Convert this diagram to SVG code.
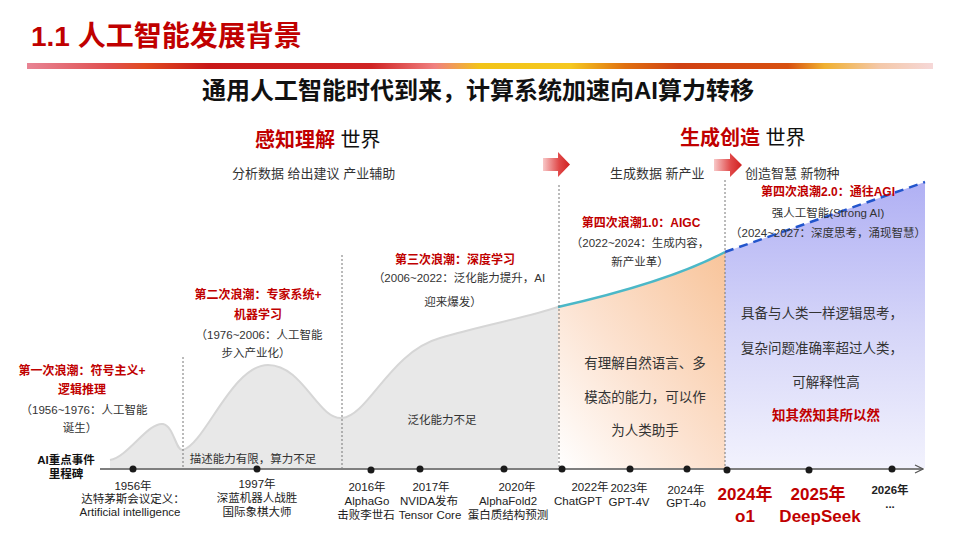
<svg xmlns="http://www.w3.org/2000/svg" width="960" height="540" viewBox="0 0 960 540">
<defs>
<linearGradient id="bar" x1="27" y1="0" x2="933" y2="0" gradientUnits="userSpaceOnUse">
<stop offset="0" stop-color="#E88494"/>
<stop offset="0.09" stop-color="#E05050"/>
<stop offset="0.13" stop-color="#E04A20"/>
<stop offset="0.2" stop-color="#C81818"/>
<stop offset="0.38" stop-color="#D02424"/>
<stop offset="0.45" stop-color="#F08080"/>
<stop offset="0.5" stop-color="#F2C418"/>
<stop offset="0.6" stop-color="#F5C820"/>
<stop offset="0.66" stop-color="#E07010"/>
<stop offset="0.72" stop-color="#D04012"/>
<stop offset="0.84" stop-color="#D85010"/>
<stop offset="0.88" stop-color="#F0B030"/>
<stop offset="0.94" stop-color="#F4C8A8"/>
<stop offset="1" stop-color="#F6D8D8"/>
</linearGradient>
<linearGradient id="arrowG" x1="0" y1="0" x2="1" y2="0">
<stop offset="0" stop-color="#F8C8C8"/>
<stop offset="0.6" stop-color="#E04848"/>
<stop offset="1" stop-color="#D02020"/>
</linearGradient>
<linearGradient id="orangeG" x1="1" y1="0" x2="0" y2="1">
<stop offset="0" stop-color="#F8C49A"/>
<stop offset="0.55" stop-color="#FCE2D0"/>
<stop offset="1" stop-color="#FFFFFF"/>
</linearGradient>
<linearGradient id="blueG" x1="0" y1="0" x2="0" y2="1">
<stop offset="0" stop-color="#B0B0F4"/>
<stop offset="0.5" stop-color="#D4D4F8"/>
<stop offset="1" stop-color="#F2F2FD"/>
</linearGradient>
<marker id="axisArrow" markerWidth="10" markerHeight="10" refX="9" refY="5" orient="auto" markerUnits="userSpaceOnUse">
<path d="M1,1 L9,5 L1,9" fill="none" stroke="#555" stroke-width="1.2"/>
</marker>
<style>
text{font-family:"Liberation Sans","Noto Sans CJK SC",sans-serif;}
.red{fill:#C00000;font-weight:bold;}
.wave{font-size:12px;fill:#C00000;font-weight:bold;text-anchor:middle;}
.note{font-size:11.5px;fill:#333;text-anchor:middle;}
.ms{font-size:11.5px;fill:#222;text-anchor:middle;}
.big{font-size:17px;fill:#C00000;font-weight:bold;text-anchor:middle;}
.body{font-size:13.5px;fill:#333;text-anchor:middle;}
.head{font-size:13px;fill:#333;}
.vdash{stroke:#777;stroke-width:1;stroke-dasharray:2 2;fill:none;}
.dot{fill:#1a1a1a;}
</style>
</defs>

<rect width="960" height="540" fill="#FFFFFF"/>

<g id="title">
<text x="31" y="46" font-size="28" class="red" fill="#C00000">1.1 人工智能发展背景</text>
<rect x="27" y="63" width="906" height="6" fill="url(#bar)"/>
</g>

<g id="subtitle">
<text x="478" y="99" font-size="24" font-weight="bold" fill="#111" text-anchor="middle">通用人工智能时代到来，计算系统加速向AI算力转移</text>
</g>

<g id="areas">
<path d="M110,468 L110,460 C128,457 148,422 163,424 C174,426 176,452 183,450 C205,444 232,365 268,365 C303,365 318,420 342,418 C368,416 390,352 440,338 C480,326 525,318 558,307 L558,468 Z" fill="#E8E8E8" stroke="none"/>
<path d="M110,460 C128,457 148,422 163,424 C174,426 176,452 183,450 C205,444 232,365 268,365 C303,365 318,420 342,418 C368,416 390,352 440,338 C480,326 525,318 558,307" fill="none" stroke="#D6D6D6" stroke-width="2"/>
<path d="M558,307 C620,293 680,276 725,252 L725,468 L558,468 Z" fill="url(#orangeG)"/>
<path d="M725,252 L925,182 L925,468 L725,468 Z" fill="url(#blueG)"/>
</g>

<g id="connectors">
<path d="M558,307 C620,293 680,276 725,252" fill="none" stroke="#4BB8C8" stroke-width="2.5"/>
<path d="M725,252 L925,182" fill="none" stroke="#2255CC" stroke-width="2.5" stroke-dasharray="9 6"/>
<line class="vdash" x1="183" y1="357" x2="183" y2="468"/>
<line class="vdash" x1="342" y1="255" x2="342" y2="468"/>
<line class="vdash" x1="559" y1="185" x2="559" y2="468"/>
<line class="vdash" x1="725" y1="180" x2="725" y2="468"/>
<line x1="100" y1="469" x2="923" y2="469" stroke="#555" stroke-width="1.5" marker-end="url(#axisArrow)"/>
</g>

<g id="arrow1">
<path d="M543,158 L558,158 L558,152 L570,164.5 L558,177 L558,171 L543,171 Z" fill="url(#arrowG)"/>
</g>
<g id="arrow2">
<path d="M714,159 L730,159 L730,153 L742,165 L730,177 L730,171 L714,171 Z" fill="url(#arrowG)"/>
</g>

<g id="header-perceive">
<text x="255" y="147" font-size="20"><tspan class="red">感知理解</tspan><tspan fill="#111"> 世界</tspan></text>
<text x="232" y="178" class="head">分析数据 给出建议 产业辅助</text>
</g>
<g id="header-generate">
<text x="680" y="145" font-size="20"><tspan class="red">生成创造</tspan><tspan fill="#111"> 世界</tspan></text>
<text x="610" y="178" class="head">生成数据 新产业</text>
<text x="745" y="178" class="head">创造智慧  新物种</text>
</g>

<g id="wave1">
<text x="82" y="375" class="wave">第一次浪潮：符号主义+</text>
<text x="82" y="394" class="wave">逻辑推理</text>
<text x="84" y="414" class="note">（1956~1976：人工智能</text>
<text x="80" y="432" class="note">诞生）</text>
</g>
<g id="wave2">
<text x="258" y="299" class="wave">第二次浪潮：专家系统+</text>
<text x="258" y="319" class="wave">机器学习</text>
<text x="259" y="339" class="note">（1976~2006：人工智能</text>
<text x="256" y="357" class="note">步入产业化）</text>
<text x="253" y="463" class="note">描述能力有限，算力不足</text>
</g>
<g id="wave3">
<text x="455" y="264" class="wave">第三次浪潮：深度学习</text>
<text x="459" y="282" class="note">（2006~2022：泛化能力提升，AI</text>
<text x="453" y="306" class="note">迎来爆发）</text>
<text x="442" y="424" class="note">泛化能力不足</text>
</g>
<g id="wave4">
<text x="641" y="227" class="wave">第四次浪潮1.0：AIGC</text>
<text x="640" y="247" class="note">（2022~2024：生成内容，</text>
<text x="640" y="266" class="note">新产业革）</text>
<text x="645" y="368" class="body" font-size="14">有理解自然语言、多</text>
<text x="645" y="402" class="body" font-size="14">模态的能力，可以作</text>
<text x="645" y="435" class="body" font-size="14">为人类助手</text>
</g>
<g id="wave5">
<text x="828" y="196" class="wave">第四次浪潮2.0：通往AGI</text>
<text x="828" y="217" class="note" font-size="12">强人工智能(Strong AI)</text>
<text x="828" y="237" class="note">（2024~2027：深度思考，涌现智慧）</text>
<text x="822" y="318" class="body">具备与人类一样逻辑思考，</text>
<text x="822" y="353" class="body">复杂问题准确率超过人类，</text>
<text x="826" y="387" class="body">可解释性高</text>
<text x="826" y="420" class="body" style="fill:#C00000;font-weight:bold">知其然知其所以然</text>
</g>

<g id="milestone-label">
<text x="66" y="464" font-size="11.5" font-weight="bold" fill="#111" text-anchor="middle">AI重点事件</text>
<text x="66" y="478" font-size="11.5" font-weight="bold" fill="#111" text-anchor="middle">里程碑</text>
</g>

<g id="m1956"><circle class="dot" cx="133" cy="469" r="3.5"/>
<text x="133" y="490" class="ms">1956年</text><text x="133" y="503" class="ms">达特茅斯会议定义：</text><text x="130" y="516" class="ms">Artificial intelligence</text></g>
<g id="m1997"><circle class="dot" cx="257" cy="469" r="3.5"/>
<text x="257" y="488" class="ms">1997年</text><text x="257" y="502" class="ms">深蓝机器人战胜</text><text x="257" y="516" class="ms">国际象棋大师</text></g>
<g id="m2016"><circle class="dot" cx="371" cy="470" r="3.5"/>
<text x="367" y="491" class="ms">2016年</text><text x="367" y="505" class="ms">AlphaGo</text><text x="366" y="519" class="ms">击败李世石</text></g>
<g id="m2017"><circle class="dot" cx="420" cy="469" r="3.5"/>
<text x="431" y="491" class="ms">2017年</text><text x="429" y="505" class="ms">NVIDA发布</text><text x="430" y="519" class="ms">Tensor Core</text></g>
<g id="m2020"><circle class="dot" cx="504" cy="469" r="3.5"/>
<text x="517" y="491" class="ms">2020年</text><text x="508" y="505" class="ms">AlphaFold2</text><text x="508" y="519" class="ms">蛋白质结构预测</text></g>
<g id="m2022"><circle class="dot" cx="562" cy="469" r="3.5"/>
<text x="590" y="491" class="ms">2022年</text><text x="578" y="505" class="ms">ChatGPT</text></g>
<g id="m2023"><circle class="dot" cx="630" cy="469" r="3.5"/>
<text x="629" y="492" class="ms">2023年</text><text x="629" y="506" class="ms">GPT-4V</text></g>
<g id="m2024a"><circle class="dot" cx="687" cy="469" r="3.5"/>
<text x="686" y="494" class="ms">2024年</text><text x="686" y="507" class="ms">GPT-4o</text></g>
<g id="m2024b"><circle class="dot" cx="727" cy="470" r="3.5"/>
<text x="745" y="500" class="big">2024年</text><text x="745" y="522" class="big">o1</text></g>
<g id="m2025"><circle class="dot" cx="809" cy="470" r="3.5"/>
<text x="818" y="500" class="big">2025年</text><text x="820" y="522" class="big">DeepSeek</text></g>
<g id="m2026"><circle class="dot" cx="892" cy="469" r="3.5"/>
<text x="890" y="494" class="ms" font-weight="bold">2026年</text><text x="890" y="508" class="ms" font-weight="bold">...</text></g>
</svg>
